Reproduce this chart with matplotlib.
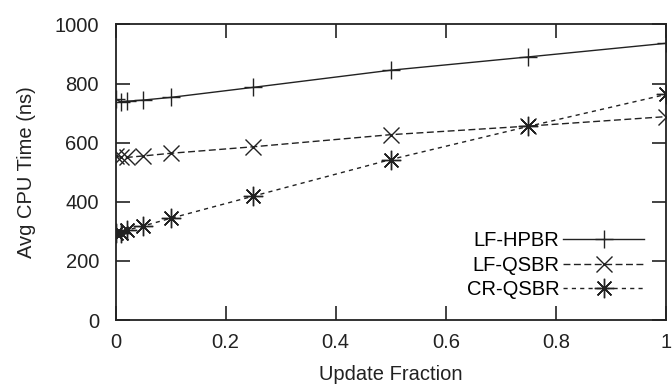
import numpy as np
import matplotlib.pyplot as plt

plt.rcParams['font.family'] = ['Liberation Sans', 'DejaVu Sans']

# Données
frac = [0, 0.01, 0.02, 0.05, 0.1, 0.25, 0.5, 0.75, 1.0]
lf_hpbr = [747, 738, 740, 744, 753, 787, 845, 890, 936]
lf_qsbr = [555, 550, 550, 555, 564, 586, 627, 656, 688]
cr_qsbr = [296, 296, 304, 318, 344, 419, 543, 655, 763]

fig = plt.figure(figsize=(6.72, 3.87), dpi=100)
ax = fig.add_axes([0.172, 0.173, 0.819, 0.764])

ax.plot(frac, lf_hpbr, '-', color='#222222', lw=1.0, marker='+', ms=13, mew=1.0,
        label='LF-HPBR')
ax.plot(frac, lf_qsbr, color='#222222', lw=1.0, ls=(0, (5, 2.5)), marker='x', ms=11,
        mew=1.0, label='LF-QSBR')
ax.plot(frac, cr_qsbr, color='#222222', lw=1.0, ls=(0, (3, 3)), marker=(8, 2, 0),
        ms=14, mew=1.0, label='CR-QSBR')

ax.set_xlim(0, 1)
ax.set_ylim(0, 1000)
ax.set_xticks(np.arange(0, 1.01, 0.2))
ax.set_xticklabels(['0', '0.2', '0.4', '0.6', '0.8', '1'])
ax.set_yticks(np.arange(0, 1001, 200))
ax.tick_params(direction='in', length=10, width=1.2, top=True, right=True,
               labelsize=14.5, colors='#222222')
ax.tick_params(axis='y', pad=12)
ax.tick_params(axis='x', pad=9)
for s in ax.spines.values():
    s.set_linewidth(1.3)
    s.set_color('#222222')

ax.set_xlabel('Update Fraction', fontsize=14.5, color='#222222', labelpad=10)
ax.set_ylabel('Avg CPU Time (ns)', fontsize=14.5, color='#222222', labelpad=13)

ax.legend(loc='lower right', bbox_to_anchor=(0.96, 0.07), frameon=False,
          markerfirst=False, fontsize=14.5, handlelength=4.0, labelspacing=0.28,
          handletextpad=0.2, borderaxespad=0, borderpad=0)

plt.savefig('out.png', dpi=100)
